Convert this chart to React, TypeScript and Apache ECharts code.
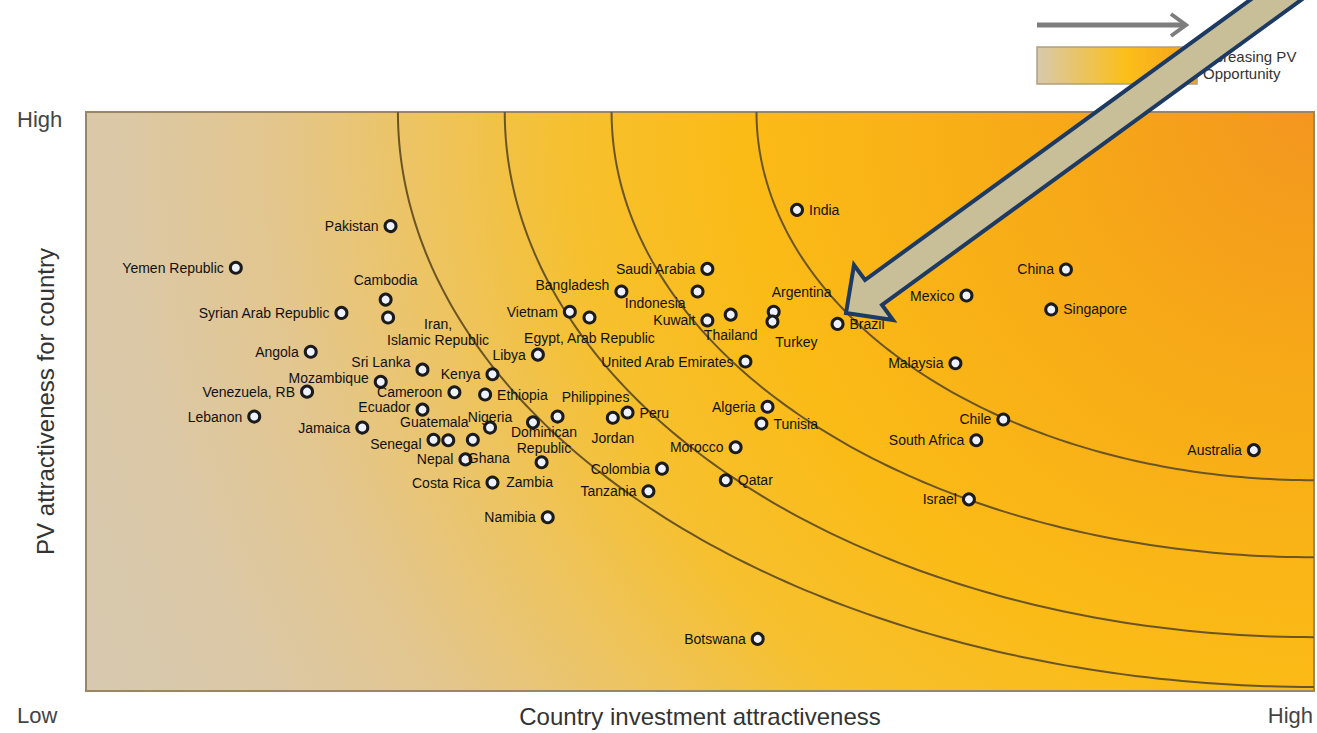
import React, { useEffect, useRef } from "react";
import * as echarts from "echarts";

// ---- data (axis units 0..100, Low..High) ----
const countries = [
  "Yemen Republic", "Pakistan", "Cambodia", "Syrian Arab Republic", "Iran,\nIslamic Republic",
  "Angola", "Sri Lanka", "Mozambique", "Venezuela, RB", "Lebanon",
  "Kenya", "Cameroon", "Ethiopia", "Ecuador", "Jamaica",
  "Senegal", "Guatemala", "Ghana", "Nigeria", "Nepal",
  "Costa Rica", "Namibia", "Zambia", "Dominican\nRepublic", "Philippines",
  "Jordan", "Peru", "Libya", "Egypt, Arab Republic", "Vietnam",
  "Bangladesh", "Indonesia", "Saudi Arabia", "Kuwait", "Thailand",
  "Argentina", "Turkey", "Brazil", "United Arab Emirates", "India",
  "Algeria", "Tunisia", "Morocco", "Qatar", "Colombia",
  "Tanzania", "Botswana", "Mexico", "China", "Singapore",
  "Malaysia", "Chile", "South Africa", "Israel", "Australia",
];
const investment = [
  12.2, 24.8, 24.4, 20.8, 24.6,
  18.3, 27.4, 24.0, 18.0, 13.7,
  33.1, 30.0, 32.5, 27.4, 22.5,
  28.3, 29.5, 31.5, 32.9, 30.9,
  33.1, 37.6, 37.1, 36.4, 38.4,
  42.9, 44.1, 36.8, 41.0, 39.4,
  43.6, 49.8, 50.6, 50.6, 52.5,
  56.0, 55.9, 61.2, 53.7, 57.9,
  55.5, 55.0, 52.9, 52.1, 46.9,
  45.8, 54.7, 71.7, 79.8, 78.6,
  70.8, 74.7, 72.5, 71.9, 95.1,
];
const pvAttractiveness = [
  73.1, 80.3, 67.6, 65.3, 64.5,
  58.6, 55.5, 53.4, 51.7, 47.4,
  54.7, 51.6, 51.2, 48.6, 45.5,
  43.4, 43.3, 43.4, 45.5, 40.0,
  36.0, 30.0, 39.5, 46.4, 47.4,
  47.2, 48.1, 58.1, 64.5, 65.5,
  69.0, 69.0, 72.9, 64.0, 65.0,
  65.5, 63.8, 63.4, 56.9, 83.1,
  49.1, 46.2, 42.1, 36.4, 38.4,
  34.5, 9.0, 68.3, 72.8, 65.9,
  56.6, 46.9, 43.3, 33.1, 41.6,
];
// label placement per point
const labelSide = [
  "left", "left", "top", "left", "bottom",
  "left", "left", "left", "left", "left",
  "left", "left", "right", "left", "left",
  "left", "top", "bottom", "top", "left",
  "left", "left", "bottom", "bottom", "top",
  "bottom", "right", "left", "bottom", "left",
  "left", "left", "left", "left", "bottom",
  "top", "bottom", "right", "left", "right",
  "left", "right", "left", "right", "left",
  "left", "left", "left", "left", "right",
  "left", "left", "left", "left", "left",
];
const labelNudge: Record<string, [number, number]> = {
  "Iran,\nIslamic Republic": [50, -14],
  Philippines: [38, 0],
  Turkey: [24, 0],
  Argentina: [28, 0],
  Guatemala: [-14, 2],
  Ecuador: [0, -3],
  Senegal: [0, 4],
  Nigeria: [0, 9],
  Indonesia: [0, 12],
  "Sri Lanka": [0, -8],
  Bangladesh: [0, -6],
  Mozambique: [0, -4],
  Ghana: [16, -2],
  Zambia: [-12, 0],
  "Dominican\nRepublic": [11, -10],
};
// iso-opportunity arcs (semi-axes, in axis units, centred on the High/High corner)
const arcRadiusX = [45.4, 57.2, 65.9, 74.6];
const arcRadiusY = [63.6, 76.9, 90.7, 99.3];

const xTitle = "Country investment attractiveness";
const yTitle = "PV attractiveness for country";
const lowText = "Low";
const highText = "High";
const legendText = "Increasing PV\nOpportunity";

const FONT = "'Liberation Sans', Arial, sans-serif";

export default function App() {
  const ref = useRef<HTMLDivElement>(null);

  useEffect(() => {
    document.body.style.margin = "0";
    const chart = echarts.init(ref.current!, null, { renderer: "svg" });

    const bgStops = [
      { offset: 0, color: "#f3961f" },
      { offset: 0.2, color: "#f7aa17" },
      { offset: 0.42, color: "#fbbb16" },
      { offset: 0.55, color: "#f6c02e" },
      { offset: 0.66, color: "#edc462" },
      { offset: 0.77, color: "#e3c68e" },
      { offset: 0.88, color: "#dbc8a6" },
      { offset: 1, color: "#d7c9b0" },
    ];

    const scatterData = countries.map((name, i) => ({
      name,
      value: [investment[i], pvAttractiveness[i]],
      label: {
        position: labelSide[i],
        offset: labelNudge[name] || [0, 0],
        align: labelSide[i] === "bottom" || labelSide[i] === "top" ? "center" : undefined,
      },
    }));

    const option: any = {
      animation: false,
      grid: { left: 86, top: 112, width: 1228, height: 580, show: false },
      xAxis: {
        type: "value",
        min: 0,
        max: 100,
        axisLine: { show: false },
        axisTick: { show: false },
        axisLabel: { show: false },
        splitLine: { show: false },
        name: xTitle,
        nameLocation: "middle",
        nameGap: 13,
        nameTextStyle: { fontSize: 24, color: "#333", fontFamily: FONT },
      },
      yAxis: {
        type: "value",
        min: 0,
        max: 100,
        axisLine: { show: false },
        axisTick: { show: false },
        axisLabel: { show: false },
        splitLine: { show: false },
        name: yTitle,
        nameLocation: "middle",
        nameGap: 29,
        nameTextStyle: { fontSize: 24, color: "#333", fontFamily: FONT },
      },
      series: [
        {
          type: "custom",
          silent: true,
          z: 0,
          data: [[0, 0]],
          renderItem: (_p: any, api: any) => {
            const tl = api.coord([0, 100]);
            const br = api.coord([100, 0]);
            const c = api.coord([100, 100]);
            const r = Math.hypot(c[0] - tl[0], br[1] - c[1]);
            return {
              type: "rect",
              shape: { x: tl[0], y: tl[1], width: br[0] - tl[0], height: br[1] - tl[1] },
              style: {
                fill: new echarts.graphic.RadialGradient(c[0], c[1], r, bgStops, true),
                stroke: "#9a8660",
                lineWidth: 2,
              },
            };
          },
        },
        {
          type: "custom",
          silent: true,
          z: 1,
          data: arcRadiusX.map((rx, i) => [rx, arcRadiusY[i]]),
          renderItem: (_p: any, api: any) => {
            const c = api.coord([100, 100]);
            const s = api.size([api.value(0), api.value(1)]);
            const pts: number[][] = [];
            for (let k = 0; k <= 120; k++) {
              const t = (Math.PI / 2) * (k / 120);
              pts.push([c[0] - s[0] * Math.cos(t), c[1] + s[1] * Math.sin(t)]);
            }
            return {
              type: "polyline",
              shape: { points: pts },
              style: { stroke: "#6b5524", lineWidth: 2, fill: "none" },
            };
          },
        },
        {
          type: "scatter",
          z: 3,
          symbol: "circle",
          symbolSize: 11,
          itemStyle: { color: "#eef2ff", borderColor: "#1b1b1b", borderWidth: 3, opacity: 1 },
          label: {
            show: true,
            formatter: "{b}",
            fontSize: 14,
            color: "#111",
            fontFamily: FONT,
            distance: 5,
            lineHeight: 16,
          },
          data: scatterData,
        },
      ],
      graphic: [
        { type: "text", left: 17, top: 108, style: { text: highText, fontSize: 22, fill: "#444", fontFamily: FONT } },
        { type: "text", left: 17, top: 704, style: { text: lowText, fontSize: 22, fill: "#444", fontFamily: FONT } },
        { type: "text", right: 4, top: 704, style: { text: highText, fontSize: 22, fill: "#444", fontFamily: FONT } },
        // legend
        {
          type: "line",
          shape: { x1: 1037, y1: 25, x2: 1183, y2: 25 },
          style: { stroke: "#7d7d7d", lineWidth: 5 },
        },
        {
          type: "polyline",
          shape: { points: [[1171, 14], [1186, 25], [1171, 36]] },
          style: { stroke: "#7d7d7d", lineWidth: 4, fill: "none" },
        },
        {
          type: "rect",
          shape: { x: 1037, y: 47, width: 160, height: 37 },
          style: {
            fill: new echarts.graphic.LinearGradient(0, 0, 1, 0, [
              { offset: 0, color: "#d8c9ac" },
              { offset: 0.55, color: "#fbbf1a" },
              { offset: 1, color: "#f6a01c" },
            ]),
            stroke: "#b0a080",
            lineWidth: 1.5,
          },
        },
        {
          type: "text",
          left: 1203,
          top: 48,
          style: { text: legendText, fontSize: 15, lineHeight: 17, fill: "#333", fontFamily: FONT },
        },
        // callout arrow
        {
          type: "polygon",
          z: 100,
          shape: {
            points: [
              [846, 313],
              [854, 265],
              [865, 280],
              [1349, -72],
              [1367, -48],
              [882, 305],
              [893, 320],
            ],
          },
          style: { fill: "#c8bf98", stroke: "#1d3a62", lineWidth: 4, lineJoin: "miter" },
        },
      ],
    };

    chart.setOption(option);
    return () => chart.dispose();
  }, []);

  return <div ref={ref} style={{ width: 1317, height: 733 }} />;
}
